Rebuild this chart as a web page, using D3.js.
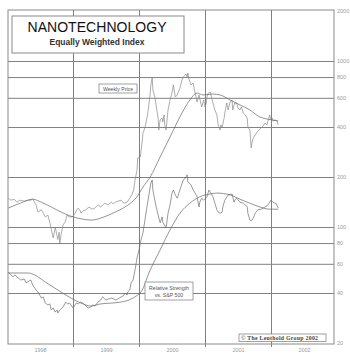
<!DOCTYPE html>
<html><head><meta charset="utf-8">
<script src="https://cdn.jsdelivr.net/npm/d3@7"></script>
<style>
html,body{margin:0;padding:0;background:#fff;}
svg{display:block;}
</style></head>
<body><svg id="c" width="350" height="359"></svg>
<script>
// ---- data (decimal years / index values) ----
const priceDates = [1998.02,1998.06,1998.11,1998.15,1998.20,1998.26,1998.32,1998.36,1998.39,1998.44,1998.47,1998.52,1998.58,1998.62,1998.65,1998.70,1998.73,1998.74,1998.77,1998.79,1998.80,1998.82,1998.85,1998.88,1998.91,1998.94,1998.97,1999.00,1999.03,1999.06,1999.08,1999.11,1999.12,1999.15,1999.20,1999.24,1999.29,1999.33,1999.38,1999.42,1999.48,1999.53,1999.58,1999.61,1999.64,1999.68,1999.73,1999.77,1999.82,1999.86,1999.89,1999.92,1999.94,1999.97,1999.98,2000.02,2000.05,2000.06,2000.09,2000.12,2000.14,2000.17,2000.18,2000.20,2000.21,2000.24,2000.27,2000.29,2000.30,2000.32,2000.35,2000.36,2000.38,2000.39,2000.41,2000.44,2000.47,2000.50,2000.52,2000.55,2000.58,2000.59,2000.62,2000.65,2000.67,2000.70,2000.71,2000.73,2000.74,2000.76,2000.79,2000.82,2000.85,2000.88,2000.91,2000.92,2000.95,2000.98,2001.00,2001.02,2001.03,2001.05,2001.08,2001.09,2001.12,2001.15,2001.18,2001.20,2001.23,2001.24,2001.26,2001.29,2001.30,2001.33,2001.35,2001.38,2001.41,2001.42,2001.45,2001.48,2001.50,2001.53,2001.55,2001.58,2001.61,2001.64,2001.65,2001.68,2001.70,2001.71,2001.73,2001.76,2001.79,2001.82,2001.85,2001.88,2001.91,2001.94,2001.95,2001.98,2002.00,2002.02,2002.03,2002.06,2002.09,2002.11];
const priceValues = [149,145,147,141,145,143,145,145,147,136,123,127,115,118,106,86,99,96,84,93,80,90,103,107,118,115,115,116,121,127,130,125,121,125,127,132,128,130,136,132,139,136,141,138,141,143,145,139,141,149,156,167,192,220,260,264,334,368,395,453,507,641,717,790,669,607,507,453,384,441,453,429,473,412,384,507,582,641,717,607,624,641,687,768,801,823,835,801,847,768,717,737,641,566,624,598,528,582,528,558,607,641,650,624,558,507,473,412,384,412,400,453,486,558,507,566,582,507,558,558,520,507,528,486,473,453,400,384,299,320,344,358,373,384,395,406,423,412,429,473,441,453,435,441,435,412];

const priceMADates = [1998.02,1998.20,1998.39,1998.52,1998.67,1998.82,1998.97,1999.12,1999.27,1999.42,1999.58,1999.73,1999.86,1999.97,2000.06,2000.17,2000.32,2000.47,2000.62,2000.77,2000.88,2000.97,2001.12,2001.23,2001.38,2001.53,2001.68,2001.83,2001.94,2002.02,2002.11];
const priceMAValues = [130,139,147,141,132,123,116,112,110,113,120,128,138,152,174,200,264,348,460,582,641,624,632,624,582,543,507,460,447,441,435];

const rsDates = [1998.02,1998.06,1998.09,1998.12,1998.17,1998.21,1998.26,1998.29,1998.33,1998.36,1998.39,1998.44,1998.47,1998.52,1998.55,1998.58,1998.62,1998.65,1998.67,1998.70,1998.73,1998.76,1998.77,1998.80,1998.85,1998.89,1998.92,1998.95,1999.00,1999.05,1999.08,1999.11,1999.15,1999.18,1999.23,1999.27,1999.30,1999.33,1999.38,1999.42,1999.45,1999.50,1999.53,1999.58,1999.62,1999.65,1999.70,1999.73,1999.76,1999.79,1999.82,1999.83,1999.86,1999.88,1999.91,1999.94,1999.97,2000.00,2000.03,2000.06,2000.09,2000.12,2000.15,2000.18,2000.20,2000.21,2000.24,2000.26,2000.29,2000.32,2000.35,2000.36,2000.41,2000.44,2000.47,2000.50,2000.52,2000.55,2000.58,2000.62,2000.67,2000.70,2000.73,2000.74,2000.79,2000.82,2000.85,2000.88,2000.91,2000.92,2000.95,2000.98,2001.03,2001.06,2001.09,2001.12,2001.15,2001.18,2001.20,2001.23,2001.26,2001.27,2001.30,2001.35,2001.41,2001.42,2001.44,2001.45,2001.48,2001.53,2001.58,2001.61,2001.64,2001.65,2001.68,2001.70,2001.73,2001.76,2001.80,2001.85,2001.88,2001.94,2001.97,2002.00,2002.03,2002.06,2002.08,2002.11];
const rsValues = [53.5,51.4,50.0,51.4,49.3,47.9,48.6,46.0,47.2,47.9,44.7,41.7,40.6,37.3,37.9,34.8,33.9,34.4,31.6,32.5,30.7,31.6,30.3,31.6,33.0,35.3,34.4,34.8,32.5,34.8,34.4,35.3,34.8,33.9,32.5,33.0,33.9,33.4,35.3,36.3,37.9,36.3,36.8,37.3,36.8,36.3,37.3,37.9,38.4,40.0,38.9,40.6,41.7,46.0,47.9,55.1,65.0,72.7,83.5,92.0,110,132,156,184,192,167,145,132,118,106,115,107,98.6,121,136,160,167,156,149,167,192,196,206,187,179,167,160,152,132,141,149,145,152,167,160,152,139,127,123,121,123,132,145,156,158,152,141,145,149,141,139,136,132,121,110,109,113,121,127,128,130,134,139,145,141,139,138,130];

const rsMADates = [1998.02,1998.17,1998.32,1998.42,1998.58,1998.77,1998.97,1999.12,1999.27,1999.42,1999.58,1999.73,1999.88,1999.98,2000.03,2000.17,2000.32,2000.47,2000.62,2000.77,2000.92,2001.08,2001.18,2001.38,2001.53,2001.68,2001.83,2001.98,2002.11];
const rsMAValues = [52.8,52.8,52.8,51.4,46.6,41.7,37.3,34.8,33.4,34.4,34.8,35.3,36.8,38.9,40.6,55.1,72.7,95.9,121,139,152,158,160,156,147,139,132,128,128];

const yTicks = [2000,1000,800,600,400,200,100,80,60,40,20];
const yGrid = [1000,800,600,400,200,100,80,60,40];
const years = [1998,1999,2000,2001,2002];
const yearGrid = [1999,2000,2001,2002];

// ---- layout ----
const svg = d3.select("#c");
const L = 8, R = 334, T = 10, B = 344;
const x = d3.scaleLinear().domain([1998, 2003]).range([7, 337]);
const y = d3.scaleLog().domain([20, 2000]).range([343, 11]);

const grid = svg.append("g");
grid.append("g").attr("transform", `translate(${L},0)`)
  .call(d3.axisRight(y).tickValues(yGrid).tickSize(R - L).tickFormat(""))
  .call(g => g.select(".domain").remove())
  .call(g => g.selectAll("line").attr("stroke", "#808080").attr("stroke-width", 1));
grid.append("g").attr("transform", `translate(0,${T})`)
  .call(d3.axisBottom(x).tickValues(yearGrid).tickSize(B - T + 3).tickFormat(""))
  .call(g => g.select(".domain").remove())
  .call(g => g.selectAll("line").attr("stroke", "#808080").attr("stroke-width", 1));

svg.append("rect").attr("x", L).attr("y", T).attr("width", R - L).attr("height", B - T)
  .attr("fill", "none").attr("stroke", "#8a8a8a").attr("stroke-width", 1);

svg.append("g").attr("transform", `translate(${R},0)`)
  .call(d3.axisRight(y).tickValues(yTicks).tickSize(0).tickPadding(3).tickFormat(d3.format("d")))
  .call(g => g.select(".domain").remove())
  .call(g => g.selectAll("text").attr("fill", "#9a9a9a").attr("font-size", 5.5)
    .attr("font-family", "Liberation Sans, Arial, sans-serif"));

svg.append("g").attr("transform", `translate(0,${B + 1})`)
  .call(d3.axisBottom(x).tickValues(years.map(v => v + 0.5)).tickSize(0).tickPadding(3)
    .tickFormat(d => String(Math.floor(d))))
  .call(g => g.select(".domain").remove())
  .call(g => g.selectAll("text").attr("fill", "#9a9a9a").attr("font-size", 5.5)
    .attr("font-family", "Liberation Sans, Arial, sans-serif"));

const zip = (a, b) => a.map((d, i) => [d, b[i]]);
const series = [
  {d: zip(priceDates, priceValues), c: "#8a8a8a", w: 0.7},
  {d: zip(priceMADates, priceMAValues), c: "#666", w: 0.7, curve: true},
  {d: zip(rsDates, rsValues), c: "#6e6e6e", w: 0.7},
  {d: zip(rsMADates, rsMAValues), c: "#666", w: 0.7, curve: true}
];
series.forEach(s => {
  const ln = d3.line().curve(s.curve ? d3.curveMonotoneX : d3.curveLinear)
    .x(d => x(d[0])).y(d => y(d[1]));
  svg.append("path").attr("d", ln(s.d)).attr("fill", "none")
    .attr("stroke", s.c).attr("stroke-width", s.w).attr("stroke-linejoin", "round");
});

svg.append("rect").attr("x", 12).attr("y", 16).attr("width", 172).attr("height", 37)
  .attr("fill", "#fff").attr("stroke", "#8a8a8a").attr("stroke-width", 1);
svg.append("text").attr("x", 97).attr("y", 32).attr("text-anchor", "middle")
  .attr("font-family", "Liberation Sans, Arial, sans-serif").attr("font-size", 14)
  .attr("fill", "#111")
  .attr("textLength", 139).attr("lengthAdjust", "spacing")
  .text("NANOTECHNOLOGY");
svg.append("text").attr("x", 97).attr("y", 44.5).attr("text-anchor", "middle")
  .attr("font-family", "Liberation Sans, Arial, sans-serif").attr("font-size", 8.5)
  .attr("font-weight", "bold").attr("fill", "#333").attr("textLength", 95).attr("lengthAdjust", "spacing")
  .text("Equally Weighted Index");

svg.append("rect").attr("x", 99).attr("y", 84).attr("width", 38).attr("height", 9)
  .attr("fill", "#fff").attr("stroke", "#8a8a8a").attr("stroke-width", 0.8);
svg.append("text").attr("x", 118).attr("y", 90.7).attr("text-anchor", "middle")
  .attr("font-family", "Liberation Sans, Arial, sans-serif").attr("font-size", 5.2)
  .attr("fill", "#555").text("Weekly Price");

svg.append("rect").attr("x", 145).attr("y", 282).attr("width", 48).attr("height", 18)
  .attr("fill", "#fff").attr("stroke", "#8a8a8a").attr("stroke-width", 0.8);
svg.append("text").attr("x", 169).attr("y", 289.5).attr("text-anchor", "middle")
  .attr("font-family", "Liberation Sans, Arial, sans-serif").attr("font-size", 5.2)
  .attr("fill", "#555").text("Relative Strength");
svg.append("text").attr("x", 169).attr("y", 296.5).attr("text-anchor", "middle")
  .attr("font-family", "Liberation Sans, Arial, sans-serif").attr("font-size", 5.2)
  .attr("fill", "#555").text("vs. S&P 500");

svg.append("rect").attr("x", 239).attr("y", 334).attr("width", 87).attr("height", 7.5)
  .attr("fill", "#fff").attr("stroke", "#8a8a8a").attr("stroke-width", 0.8);
svg.append("text").attr("x", 241).attr("y", 340).attr("font-family", "Liberation Serif, Times New Roman, serif")
  .attr("font-size", 5.8).attr("font-weight", "bold").attr("fill", "#444")
  .attr("textLength", 77).attr("lengthAdjust", "spacing")
  .text("\u00A9 The Leuthold Group 2002");
</script>
</body></html>
